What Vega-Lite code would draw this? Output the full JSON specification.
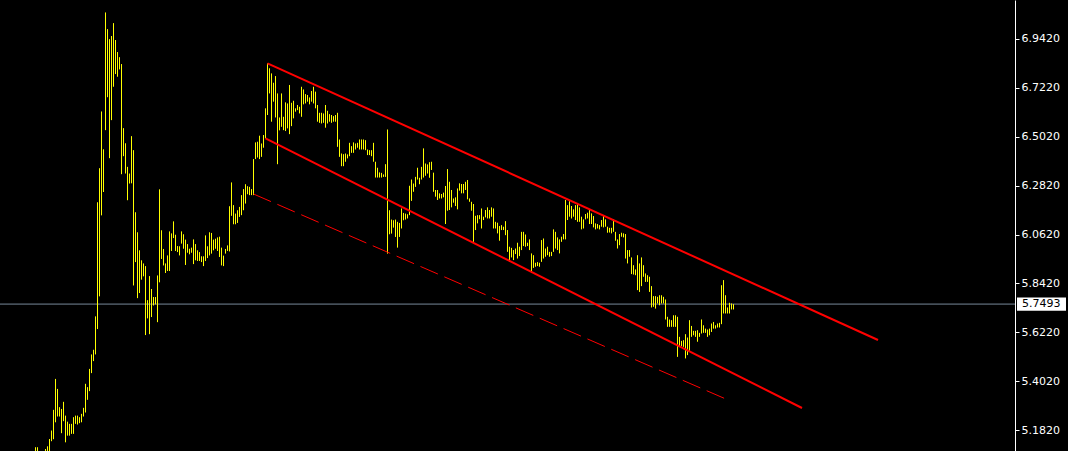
{
  "$schema": "https://vega.github.io/schema/vega-lite/v6.json",
  "width": 1015,
  "height": 451,
  "autosize": {"type": "none"},
  "padding": {"left": 0, "top": 0, "right": 53, "bottom": 0},
  "background": "#000000",
  "config": {
    "view": {"stroke": null, "fill": "#000000"},
    "axis": {"labelFont": "DejaVu Sans", "labelFontSize": 11}
  },
  "datasets": {
    "bars": [
      {"i":0,"lo":5.046,"hi":5.106},{"i":1,"lo":5.053,"hi":5.106},{"i":2,"lo":5.016,"hi":5.076},{"i":3,"lo":5.001,"hi":5.068},{"i":4,"lo":5.023,"hi":5.079},
      {"i":5,"lo":5.053,"hi":5.098},{"i":6,"lo":5.061,"hi":5.110},{"i":7,"lo":5.076,"hi":5.143},{"i":8,"lo":5.133,"hi":5.181},{"i":9,"lo":5.142,"hi":5.274},
      {"i":10,"lo":5.218,"hi":5.413},{"i":11,"lo":5.244,"hi":5.368},{"i":12,"lo":5.244,"hi":5.286},{"i":13,"lo":5.169,"hi":5.278},{"i":14,"lo":5.223,"hi":5.310},
      {"i":15,"lo":5.128,"hi":5.248},{"i":16,"lo":5.158,"hi":5.221},{"i":17,"lo":5.158,"hi":5.211},{"i":18,"lo":5.166,"hi":5.211},{"i":19,"lo":5.166,"hi":5.241},
      {"i":20,"lo":5.211,"hi":5.248},{"i":21,"lo":5.208,"hi":5.248},{"i":22,"lo":5.214,"hi":5.241},{"i":23,"lo":5.218,"hi":5.256},{"i":24,"lo":5.244,"hi":5.283},
      {"i":25,"lo":5.262,"hi":5.391},{"i":26,"lo":5.319,"hi":5.376},{"i":27,"lo":5.358,"hi":5.458},{"i":28,"lo":5.439,"hi":5.523},{"i":29,"lo":5.493,"hi":5.544},
      {"i":30,"lo":5.523,"hi":5.694},{"i":31,"lo":5.637,"hi":6.207},{"i":32,"lo":5.784,"hi":6.360},{"i":33,"lo":6.148,"hi":6.615},{"i":34,"lo":6.253,"hi":6.445},
      {"i":35,"lo":6.531,"hi":7.060},{"i":36,"lo":6.679,"hi":6.985},{"i":37,"lo":6.405,"hi":6.940},{"i":38,"lo":6.576,"hi":6.954},{"i":39,"lo":6.726,"hi":7.012},
      {"i":40,"lo":6.783,"hi":6.936},{"i":41,"lo":6.771,"hi":6.882},{"i":42,"lo":6.804,"hi":6.859},{"i":43,"lo":6.333,"hi":6.828},{"i":44,"lo":6.414,"hi":6.540},
      {"i":45,"lo":6.336,"hi":6.472},{"i":46,"lo":6.216,"hi":6.366},{"i":47,"lo":6.291,"hi":6.336},{"i":48,"lo":6.292,"hi":6.504},{"i":49,"lo":5.833,"hi":6.441},
      {"i":50,"lo":5.938,"hi":6.162},{"i":51,"lo":5.776,"hi":6.072},{"i":52,"lo":5.799,"hi":5.991},{"i":53,"lo":5.859,"hi":5.946},{"i":54,"lo":5.874,"hi":5.932},
      {"i":55,"lo":5.610,"hi":5.920},{"i":56,"lo":5.685,"hi":5.767},{"i":57,"lo":5.614,"hi":5.875},{"i":58,"lo":5.691,"hi":5.817},{"i":59,"lo":5.743,"hi":5.781},
      {"i":60,"lo":5.748,"hi":5.781},{"i":61,"lo":5.668,"hi":5.878},{"i":62,"lo":5.847,"hi":6.265},{"i":63,"lo":5.952,"hi":6.081},{"i":64,"lo":5.923,"hi":5.997},
      {"i":65,"lo":5.889,"hi":5.932},{"i":66,"lo":5.898,"hi":5.968},{"i":67,"lo":5.898,"hi":6.076},{"i":68,"lo":5.988,"hi":6.067},{"i":69,"lo":6.046,"hi":6.121},
      {"i":70,"lo":5.988,"hi":6.061},{"i":71,"lo":5.983,"hi":6.010},{"i":72,"lo":5.968,"hi":6.009},{"i":73,"lo":6.021,"hi":6.076},{"i":74,"lo":5.998,"hi":6.063},
      {"i":75,"lo":5.925,"hi":6.039},{"i":76,"lo":5.980,"hi":6.019},{"i":77,"lo":5.973,"hi":5.998},{"i":78,"lo":5.980,"hi":6.003},{"i":79,"lo":5.929,"hi":6.040},
      {"i":80,"lo":5.946,"hi":6.019},{"i":81,"lo":5.943,"hi":5.991},{"i":82,"lo":5.943,"hi":5.983},{"i":83,"lo":5.938,"hi":5.964},{"i":84,"lo":5.920,"hi":5.964},
      {"i":85,"lo":5.943,"hi":6.058},{"i":86,"lo":5.956,"hi":6.009},{"i":87,"lo":5.968,"hi":6.072},{"i":88,"lo":5.976,"hi":6.069},{"i":89,"lo":5.991,"hi":6.039},
      {"i":90,"lo":5.998,"hi":6.043},{"i":91,"lo":5.988,"hi":6.049},{"i":92,"lo":5.961,"hi":6.052},{"i":93,"lo":5.923,"hi":6.003},{"i":94,"lo":5.920,"hi":5.967},
      {"i":95,"lo":5.976,"hi":5.997},{"i":96,"lo":5.988,"hi":6.013},{"i":97,"lo":5.986,"hi":6.189},{"i":98,"lo":6.146,"hi":6.296},{"i":99,"lo":6.108,"hi":6.194},
      {"i":100,"lo":6.108,"hi":6.156},{"i":101,"lo":6.114,"hi":6.171},{"i":102,"lo":6.141,"hi":6.186},{"i":103,"lo":6.149,"hi":6.239},{"i":104,"lo":6.171,"hi":6.266},
      {"i":105,"lo":6.201,"hi":6.288},{"i":106,"lo":6.243,"hi":6.279},{"i":107,"lo":6.239,"hi":6.276},{"i":108,"lo":6.239,"hi":6.266},{"i":109,"lo":6.239,"hi":6.401},
      {"i":110,"lo":6.401,"hi":6.476},{"i":111,"lo":6.408,"hi":6.479},{"i":112,"lo":6.401,"hi":6.506},{"i":113,"lo":6.411,"hi":6.471},{"i":114,"lo":6.452,"hi":6.509},
      {"i":115,"lo":6.494,"hi":6.629},{"i":116,"lo":6.599,"hi":6.831},{"i":117,"lo":6.696,"hi":6.809},{"i":118,"lo":6.569,"hi":6.786},{"i":119,"lo":6.659,"hi":6.744},
      {"i":120,"lo":6.588,"hi":6.774},{"i":121,"lo":6.378,"hi":6.696},{"i":122,"lo":6.530,"hi":6.588},{"i":123,"lo":6.546,"hi":6.696},{"i":124,"lo":6.531,"hi":6.591},
      {"i":125,"lo":6.527,"hi":6.656},{"i":126,"lo":6.539,"hi":6.651},{"i":127,"lo":6.513,"hi":6.734},{"i":128,"lo":6.549,"hi":6.654},{"i":129,"lo":6.584,"hi":6.663},
      {"i":130,"lo":6.614,"hi":6.629},{"i":131,"lo":6.621,"hi":6.644},{"i":132,"lo":6.606,"hi":6.636},{"i":133,"lo":6.591,"hi":6.726},{"i":134,"lo":6.647,"hi":6.714},
      {"i":135,"lo":6.651,"hi":6.693},{"i":136,"lo":6.659,"hi":6.689},{"i":137,"lo":6.647,"hi":6.678},{"i":138,"lo":6.659,"hi":6.707},{"i":139,"lo":6.651,"hi":6.726},
      {"i":140,"lo":6.629,"hi":6.704},{"i":141,"lo":6.569,"hi":6.644},{"i":142,"lo":6.564,"hi":6.609},{"i":143,"lo":6.561,"hi":6.609},{"i":144,"lo":6.564,"hi":6.606},
      {"i":145,"lo":6.542,"hi":6.644},{"i":146,"lo":6.561,"hi":6.618},{"i":147,"lo":6.569,"hi":6.603},{"i":148,"lo":6.564,"hi":6.599},{"i":149,"lo":6.569,"hi":6.594},
      {"i":150,"lo":6.569,"hi":6.599},{"i":151,"lo":6.456,"hi":6.609},{"i":152,"lo":6.411,"hi":6.489},{"i":153,"lo":6.369,"hi":6.426},{"i":154,"lo":6.369,"hi":6.423},
      {"i":155,"lo":6.389,"hi":6.426},{"i":156,"lo":6.404,"hi":6.422},{"i":157,"lo":6.414,"hi":6.474},{"i":158,"lo":6.429,"hi":6.459},{"i":159,"lo":6.429,"hi":6.476},
      {"i":160,"lo":6.444,"hi":6.471},{"i":161,"lo":6.452,"hi":6.474},{"i":162,"lo":6.444,"hi":6.489},{"i":163,"lo":6.444,"hi":6.489},{"i":164,"lo":6.444,"hi":6.489},
      {"i":165,"lo":6.441,"hi":6.486},{"i":166,"lo":6.419,"hi":6.444},{"i":167,"lo":6.419,"hi":6.441},{"i":168,"lo":6.414,"hi":6.441},{"i":169,"lo":6.389,"hi":6.474},
      {"i":170,"lo":6.318,"hi":6.389},{"i":171,"lo":6.318,"hi":6.362},{"i":172,"lo":6.318,"hi":6.341},{"i":173,"lo":6.318,"hi":6.339},{"i":174,"lo":6.321,"hi":6.332},
      {"i":175,"lo":6.321,"hi":6.378},{"i":176,"lo":5.976,"hi":6.534},{"i":177,"lo":6.063,"hi":6.171},{"i":178,"lo":6.066,"hi":6.129},{"i":179,"lo":6.093,"hi":6.126},
      {"i":180,"lo":6.051,"hi":6.129},{"i":181,"lo":6.003,"hi":6.119},{"i":182,"lo":6.051,"hi":6.114},{"i":183,"lo":6.089,"hi":6.179},{"i":184,"lo":6.126,"hi":6.159},
      {"i":185,"lo":6.129,"hi":6.156},{"i":186,"lo":6.134,"hi":6.153},{"i":187,"lo":6.149,"hi":6.281},{"i":188,"lo":6.213,"hi":6.309},{"i":189,"lo":6.254,"hi":6.291},
      {"i":190,"lo":6.276,"hi":6.321},{"i":191,"lo":6.309,"hi":6.362},{"i":192,"lo":6.288,"hi":6.317},{"i":193,"lo":6.309,"hi":6.366},{"i":194,"lo":6.318,"hi":6.449},
      {"i":195,"lo":6.326,"hi":6.381},{"i":196,"lo":6.336,"hi":6.377},{"i":197,"lo":6.317,"hi":6.387},{"i":198,"lo":6.352,"hi":6.389},{"i":199,"lo":6.254,"hi":6.340},
      {"i":200,"lo":6.232,"hi":6.262},{"i":201,"lo":6.217,"hi":6.262},{"i":202,"lo":6.224,"hi":6.247},{"i":203,"lo":6.224,"hi":6.244},{"i":204,"lo":6.229,"hi":6.250},
      {"i":205,"lo":6.109,"hi":6.280},{"i":206,"lo":6.169,"hi":6.356},{"i":207,"lo":6.172,"hi":6.299},{"i":208,"lo":6.184,"hi":6.262},{"i":209,"lo":6.205,"hi":6.224},
      {"i":210,"lo":6.190,"hi":6.229},{"i":211,"lo":6.175,"hi":6.269},{"i":212,"lo":6.259,"hi":6.292},{"i":213,"lo":6.247,"hi":6.289},{"i":214,"lo":6.247,"hi":6.289},
      {"i":215,"lo":6.262,"hi":6.299},{"i":216,"lo":6.220,"hi":6.307},{"i":217,"lo":6.209,"hi":6.224},{"i":218,"lo":6.169,"hi":6.209},{"i":219,"lo":6.029,"hi":6.199},
      {"i":220,"lo":6.082,"hi":6.146},{"i":221,"lo":6.112,"hi":6.149},{"i":222,"lo":6.131,"hi":6.149},{"i":223,"lo":6.089,"hi":6.179},{"i":224,"lo":6.127,"hi":6.142},
      {"i":225,"lo":6.139,"hi":6.172},{"i":226,"lo":6.134,"hi":6.184},{"i":227,"lo":6.134,"hi":6.172},{"i":228,"lo":6.142,"hi":6.184},{"i":229,"lo":6.089,"hi":6.179},
      {"i":230,"lo":6.089,"hi":6.119},{"i":231,"lo":6.067,"hi":6.115},{"i":232,"lo":6.034,"hi":6.100},{"i":233,"lo":6.082,"hi":6.104},{"i":234,"lo":6.082,"hi":6.097},
      {"i":235,"lo":6.059,"hi":6.122},{"i":236,"lo":5.984,"hi":6.082},{"i":237,"lo":5.939,"hi":6.007},{"i":238,"lo":5.959,"hi":6.002},{"i":239,"lo":5.947,"hi":5.992},
      {"i":240,"lo":5.974,"hi":5.999},{"i":241,"lo":5.954,"hi":6.025},{"i":242,"lo":5.965,"hi":6.007},{"i":243,"lo":5.992,"hi":6.074},{"i":244,"lo":6.010,"hi":6.074},
      {"i":245,"lo":6.007,"hi":6.062},{"i":246,"lo":6.010,"hi":6.025},{"i":247,"lo":5.992,"hi":6.040},{"i":248,"lo":5.890,"hi":5.977},{"i":249,"lo":5.912,"hi":5.969},
      {"i":250,"lo":5.917,"hi":5.935},{"i":251,"lo":5.920,"hi":5.938},{"i":252,"lo":5.917,"hi":5.935},{"i":253,"lo":5.939,"hi":6.037},{"i":254,"lo":5.954,"hi":6.044},
      {"i":255,"lo":5.962,"hi":5.999},{"i":256,"lo":5.969,"hi":6.007},{"i":257,"lo":5.962,"hi":5.984},{"i":258,"lo":5.965,"hi":5.984},{"i":259,"lo":5.984,"hi":6.085},
      {"i":260,"lo":5.999,"hi":6.074},{"i":261,"lo":5.992,"hi":6.049},{"i":262,"lo":5.977,"hi":6.040},{"i":263,"lo":6.029,"hi":6.052},{"i":264,"lo":6.040,"hi":6.064},
      {"i":265,"lo":6.040,"hi":6.217},{"i":266,"lo":6.127,"hi":6.194},{"i":267,"lo":6.142,"hi":6.212},{"i":268,"lo":6.134,"hi":6.190},{"i":269,"lo":6.142,"hi":6.175},
      {"i":270,"lo":6.127,"hi":6.194},{"i":271,"lo":6.119,"hi":6.199},{"i":272,"lo":6.119,"hi":6.184},{"i":273,"lo":6.085,"hi":6.142},{"i":274,"lo":6.089,"hi":6.130},
      {"i":275,"lo":6.130,"hi":6.154},{"i":276,"lo":6.134,"hi":6.160},{"i":277,"lo":6.109,"hi":6.175},{"i":278,"lo":6.109,"hi":6.157},{"i":279,"lo":6.094,"hi":6.145},
      {"i":280,"lo":6.085,"hi":6.112},{"i":281,"lo":6.089,"hi":6.109},{"i":282,"lo":6.085,"hi":6.104},{"i":283,"lo":6.097,"hi":6.127},{"i":284,"lo":6.094,"hi":6.148},
      {"i":285,"lo":6.097,"hi":6.130},{"i":286,"lo":6.070,"hi":6.097},{"i":287,"lo":6.071,"hi":6.092},{"i":288,"lo":6.067,"hi":6.092},{"i":289,"lo":6.074,"hi":6.130},
      {"i":290,"lo":6.034,"hi":6.074},{"i":291,"lo":5.999,"hi":6.040},{"i":292,"lo":6.014,"hi":6.064},{"i":293,"lo":6.052,"hi":6.070},{"i":294,"lo":6.049,"hi":6.067},
      {"i":295,"lo":5.954,"hi":6.064},{"i":296,"lo":5.932,"hi":5.992},{"i":297,"lo":5.962,"hi":5.992},{"i":298,"lo":5.884,"hi":5.959},{"i":299,"lo":5.882,"hi":5.924},
      {"i":300,"lo":5.879,"hi":5.905},{"i":301,"lo":5.812,"hi":5.969},{"i":302,"lo":5.804,"hi":5.932},{"i":303,"lo":5.830,"hi":5.959},{"i":304,"lo":5.872,"hi":5.924},
      {"i":305,"lo":5.849,"hi":5.887},{"i":306,"lo":5.849,"hi":5.879},{"i":307,"lo":5.804,"hi":5.872},{"i":308,"lo":5.734,"hi":5.830},{"i":309,"lo":5.737,"hi":5.785},
      {"i":310,"lo":5.729,"hi":5.785},{"i":311,"lo":5.752,"hi":5.782},{"i":312,"lo":5.744,"hi":5.789},{"i":313,"lo":5.752,"hi":5.789},{"i":314,"lo":5.752,"hi":5.782},
      {"i":315,"lo":5.680,"hi":5.770},{"i":316,"lo":5.647,"hi":5.692},{"i":317,"lo":5.647,"hi":5.680},{"i":318,"lo":5.647,"hi":5.677},{"i":319,"lo":5.647,"hi":5.699},
      {"i":320,"lo":5.647,"hi":5.699},{"i":321,"lo":5.512,"hi":5.692},{"i":322,"lo":5.557,"hi":5.602},{"i":323,"lo":5.560,"hi":5.584},{"i":324,"lo":5.557,"hi":5.587},
      {"i":325,"lo":5.505,"hi":5.614},{"i":326,"lo":5.520,"hi":5.599},{"i":327,"lo":5.539,"hi":5.677},{"i":328,"lo":5.602,"hi":5.651},{"i":329,"lo":5.609,"hi":5.629},
      {"i":330,"lo":5.602,"hi":5.629},{"i":331,"lo":5.580,"hi":5.632},{"i":332,"lo":5.602,"hi":5.620},{"i":333,"lo":5.617,"hi":5.680},{"i":334,"lo":5.620,"hi":5.654},
      {"i":335,"lo":5.620,"hi":5.639},{"i":336,"lo":5.602,"hi":5.635},{"i":337,"lo":5.609,"hi":5.639},{"i":338,"lo":5.624,"hi":5.662},{"i":339,"lo":5.639,"hi":5.669},
      {"i":340,"lo":5.639,"hi":5.654},{"i":341,"lo":5.644,"hi":5.662},{"i":342,"lo":5.644,"hi":5.665},{"i":343,"lo":5.659,"hi":5.834},{"i":344,"lo":5.707,"hi":5.857},
      {"i":345,"lo":5.707,"hi":5.789},{"i":346,"lo":5.707,"hi":5.734},{"i":347,"lo":5.707,"hi":5.755},{"i":348,"lo":5.725,"hi":5.752},{"i":349,"lo":5.725,"hi":5.749}
    ],
    "solid": [
      {"name":"upper","x1":116,"p1":6.8314,"x2":421.25,"p2":5.5878},
      {"name":"lower","x1":115,"p1":6.4943,"x2":383.25,"p2":5.2822}
    ],
    "dashed": [
      {"name":"support","x1":109,"p1":6.244,"x2":345.75,"p2":5.3204}
    ],
    "bid": [
      {"price":5.7493,"label":"5.7493","bx1":490.75,"bx2":515.25,"tx":493.25,"ptop":5.7793,"pbot":5.7193}
    ]
  },
  "layer": [
    {
      "data": {"name": "bid"},
      "mark": {"type": "rule", "color": "#778899", "strokeWidth": 1},
      "encoding": {
        "y": {"field": "price", "type": "quantitative", "scale": {"domain": [5.089, 7.1159], "nice": false, "zero": false},
          "axis": {"orient": "right", "values": [6.942, 6.722, 6.502, 6.282, 6.062, 5.842, 5.622, 5.402, 5.182], "format": ".4f",
            "title": null, "grid": false, "domainColor": "#ffffff", "tickColor": "#ffffff", "labelColor": "#ffffff",
            "tickSize": 4, "labelPadding": 2, "labelFont": "DejaVu Sans", "labelFontSize": 11}}
      }
    },
    {
      "data": {"name": "bars"},
      "mark": {"type": "rule", "color": "#ffff00", "strokeWidth": 1, "clip": true},
      "encoding": {
        "x": {"field": "i", "type": "quantitative", "scale": {"domain": [-17.75, 489.75], "nice": false, "zero": false}, "axis": null},
        "y": {"field": "lo", "type": "quantitative", "scale": {"domain": [5.089, 7.1159], "nice": false, "zero": false}},
        "y2": {"field": "hi"}
      }
    },
    {
      "data": {"name": "solid"},
      "mark": {"type": "rule", "color": "#ff0000", "strokeWidth": 2},
      "encoding": {
        "x": {"field": "x1", "type": "quantitative", "scale": {"domain": [-17.75, 489.75], "nice": false, "zero": false}, "axis": null},
        "x2": {"field": "x2"},
        "y": {"field": "p1", "type": "quantitative", "scale": {"domain": [5.089, 7.1159], "nice": false, "zero": false}},
        "y2": {"field": "p2"}
      }
    },
    {
      "data": {"name": "dashed"},
      "mark": {"type": "rule", "color": "#ff0000", "strokeWidth": 1, "strokeDash": [19, 7]},
      "encoding": {
        "x": {"field": "x1", "type": "quantitative", "scale": {"domain": [-17.75, 489.75], "nice": false, "zero": false}, "axis": null},
        "x2": {"field": "x2"},
        "y": {"field": "p1", "type": "quantitative", "scale": {"domain": [5.089, 7.1159], "nice": false, "zero": false}},
        "y2": {"field": "p2"}
      }
    },
    {
      "data": {"name": "bid"},
      "mark": {"type": "rect", "fill": "#ffffff"},
      "encoding": {
        "x": {"field": "bx1", "type": "quantitative", "scale": {"domain": [-17.75, 489.75], "nice": false, "zero": false}, "axis": null},
        "x2": {"field": "bx2"},
        "y": {"field": "ptop", "type": "quantitative", "scale": {"domain": [5.089, 7.1159], "nice": false, "zero": false}},
        "y2": {"field": "pbot"}
      }
    },
    {
      "data": {"name": "bid"},
      "mark": {"type": "text", "color": "#000000", "align": "left", "baseline": "middle", "font": "DejaVu Sans", "fontSize": 11},
      "encoding": {
        "x": {"field": "tx", "type": "quantitative", "scale": {"domain": [-17.75, 489.75], "nice": false, "zero": false}, "axis": null},
        "y": {"field": "price", "type": "quantitative", "scale": {"domain": [5.089, 7.1159], "nice": false, "zero": false}},
        "text": {"field": "label"}
      }
    }
  ]
}
